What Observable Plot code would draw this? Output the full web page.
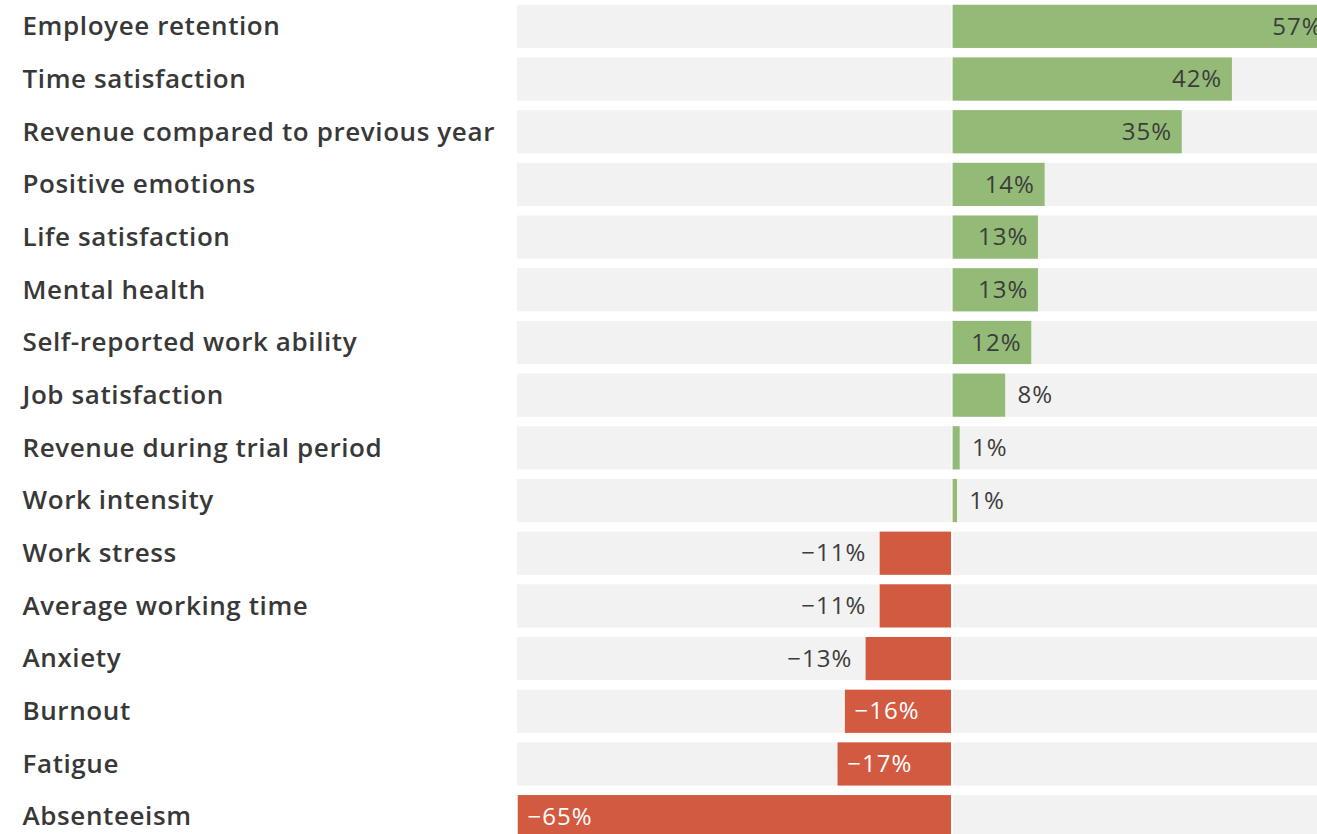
<!DOCTYPE html>
<html>
<head>
<meta charset="utf-8">
<script src="https://cdn.jsdelivr.net/npm/d3@7"></script>
<script src="https://cdn.jsdelivr.net/npm/@observablehq/plot@0.6"></script>
<style>
  html, body { margin: 0; padding: 0; background: #fff; overflow: hidden; }
  #chart svg { display: block; }
  #chart g[font-size="26"] { letter-spacing: 0.6px; }
  #chart g[font-size="24"] { letter-spacing: 1px; }
</style>
</head>
<body>
<div id="chart"></div>
<script>
const categories = [
  "Employee retention",
  "Time satisfaction",
  "Revenue compared to previous year",
  "Positive emotions",
  "Life satisfaction",
  "Mental health",
  "Self-reported work ability",
  "Job satisfaction",
  "Revenue during trial period",
  "Work intensity",
  "Work stress",
  "Average working time",
  "Anxiety",
  "Burnout",
  "Fatigue",
  "Absenteeism"
];
const values = [57, 42, 34.5, 14, 13, 13, 12, 8.1, 1.3, 0.9, -10.9, -10.9, -13, -16.1, -17.2, -65];
const labels = ["57%", "42%", "35%", "14%", "13%", "13%", "12%", "8%", "1%", "1%", "\u221211%", "\u221211%", "\u221213%", "\u221216%", "\u221217%", "\u221265%"];
// where the value label sits: inside the bar or outside
const labelInside = [true, true, true, true, true, true, true, false, false, false, false, false, false, true, true, true];

const data = categories.map((c, i) => ({name: c, value: values[i], label: labels[i], inside: labelInside[i]}));

const xMin = -65, xMax = 54.6;
const green = "#93bb77", red = "#d25a40";

const posIn = data.filter(d => d.value >= 0 && d.inside);
const posOut = data.filter(d => d.value >= 0 && !d.inside);
const negIn = data.filter(d => d.value < 0 && d.inside);
const negOut = data.filter(d => d.value < 0 && !d.inside);

const valFont = {fontSize: 24, fontWeight: 400, fontFamily: "'Open Sans', sans-serif"};

const chart = Plot.plot({
  width: 1317,
  height: 834,
  marginLeft: 517,
  marginRight: 0,
  marginTop: 0,
  marginBottom: 0,
  x: {domain: [xMin, xMax], axis: null},
  y: {domain: categories, range: [0, 843], paddingInner: 0.18, paddingOuter: 0.09, round: false, axis: null},
  style: {fontFamily: "'Open Sans', sans-serif"},
  marks: [
    Plot.barX(data, {y: "name", x1: xMin, x2: xMax, fill: "#f2f2f2"}),
    Plot.ruleX([0], {stroke: "#ffffff", strokeWidth: 1.5}),
    Plot.barX(data, {y: "name", x1: 0, x2: "value", fill: d => d.value >= 0 ? green : red, insetLeft: 0.8, insetRight: 0.8}),
    Plot.text(posIn, {y: "name", x: "value", text: "label", textAnchor: "end", dx: -11, fill: "#3c3c3c", ...valFont}),
    Plot.text(posOut, {y: "name", x: "value", text: "label", textAnchor: "start", dx: 11, fill: "#3c3c3c", ...valFont}),
    Plot.text(negIn, {y: "name", x: "value", text: "label", textAnchor: "start", dx: 10, fill: "#ffffff", ...valFont}),
    Plot.text(negOut, {y: "name", x: "value", text: "label", textAnchor: "end", dx: -13, fill: "#3c3c3c", ...valFont}),
    Plot.text(data, {y: "name", text: "name", frameAnchor: "left", textAnchor: "start", dx: -495, fill: "#383838", fontSize: 26, fontWeight: 600})
  ]
});
document.getElementById("chart").append(chart);
</script>
</body>
</html>
